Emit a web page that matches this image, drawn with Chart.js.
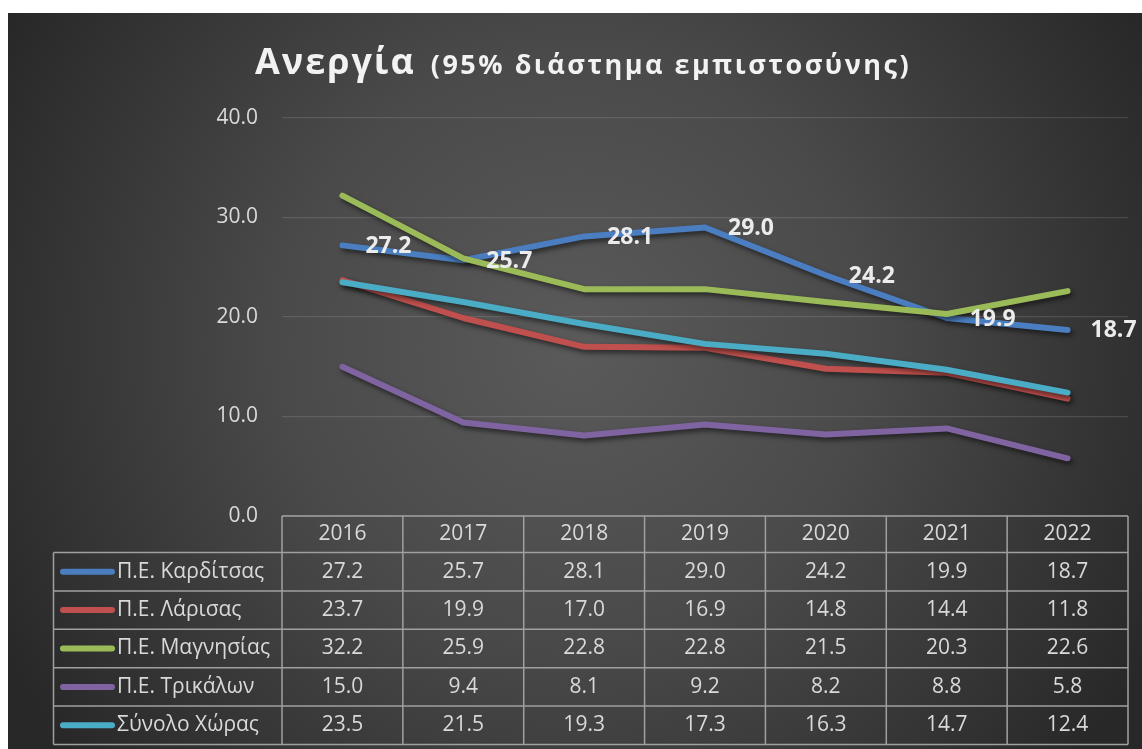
<!DOCTYPE html>
<html>
<head>
<meta charset="utf-8">
<script src="https://cdn.jsdelivr.net/npm/chart.js@4"></script>
<style>
  html, body { margin: 0; padding: 0; background: #ffffff; }
  #wrap { position: absolute; left: 8px; top: 13px; width: 1134px; height: 736px; }
</style>
</head>
<body>
<div id="wrap"><canvas id="c" width="1134" height="736"></canvas></div>
<script>
// ---- data ----
const years = ['2016', '2017', '2018', '2019', '2020', '2021', '2022'];
const seriesNames = ['Π.Ε. Καρδίτσας', 'Π.Ε. Λάρισας', 'Π.Ε. Μαγνησίας', 'Π.Ε. Τρικάλων', 'Σύνολο Χώρας'];
const karditsa  = [27.2, 25.7, 28.1, 29.0, 24.2, 19.9, 18.7];
const larisa    = [23.7, 19.9, 17.0, 16.9, 14.8, 14.4, 11.8];
const magnisia  = [32.2, 25.9, 22.8, 22.8, 21.5, 20.3, 22.6];
const trikala   = [15.0, 9.4, 8.1, 9.2, 8.2, 8.8, 5.8];
const total     = [23.5, 21.5, 19.3, 17.3, 16.3, 14.7, 12.4];
const titleMain = 'Ανεργία';
const titleSub  = '(95% διάστημα εμπιστοσύνης)';

const seriesValues = [karditsa, larisa, magnisia, trikala, total];
const colors = ['#4a7ec1', '#c0504d', '#9bbb59', '#8064a2', '#4bacc6'];
const FONT = '"Open Sans", "Noto Sans", sans-serif';
const TEXT = '#d9d9d9';

const bgPlugin = {
  id: 'bg',
  beforeDraw(chart) {
    const { ctx, width, height } = chart;
    ctx.save();
    const cx = width * 0.5, cy = height * 0.45;
    const g = ctx.createRadialGradient(cx, cy, 0, cx, cy, 650);
    g.addColorStop(0, '#5a5a5a');
    g.addColorStop(0.45, '#4a4a4a');
    g.addColorStop(1, '#282828');
    ctx.fillStyle = g;
    ctx.fillRect(0, 0, width, height);
    // title
    ctx.fillStyle = '#f2f2f2';
    ctx.textBaseline = 'alphabetic';
    ctx.textAlign = 'left';
    ctx.font = 'bold 36px ' + FONT;
    ctx.letterSpacing = '2px';
    const w1 = ctx.measureText(titleMain).width;
    ctx.font = 'bold 27px ' + FONT;
    ctx.letterSpacing = '2.5px';
    const w2 = ctx.measureText(titleSub).width;
    const gap = 15;
    const total = w1 + gap + w2;
    const x0 = 575 - total / 2;
    ctx.font = 'bold 36px ' + FONT;
    ctx.letterSpacing = '2px';
    ctx.fillText(titleMain, x0, 61);
    ctx.font = 'bold 27px ' + FONT;
    ctx.letterSpacing = '2.5px';
    ctx.fillText(titleSub, x0 + w1 + gap, 61);
    ctx.letterSpacing = '0px';
    ctx.restore();
  }
};

const shadowPlugin = {
  id: 'shadow',
  beforeDatasetDraw(chart) {
    const ctx = chart.ctx;
    ctx.save();
    ctx.shadowColor = 'rgba(0,0,0,0.55)';
    ctx.shadowBlur = 5;
    ctx.shadowOffsetX = 2;
    ctx.shadowOffsetY = 3;
  },
  afterDatasetDraw(chart) {
    chart.ctx.restore();
  }
};

const labelPlugin = {
  id: 'labels',
  afterDatasetsDraw(chart) {
    const { ctx } = chart;
    const meta = chart.getDatasetMeta(0);
    ctx.save();
    ctx.font = 'bold 23px ' + FONT;
    ctx.fillStyle = '#ececec';
    ctx.textAlign = 'left';
    ctx.textBaseline = 'middle';
    meta.data.forEach((pt, i) => {
      ctx.fillText(karditsa[i].toFixed(1), pt.x + 23, pt.y + 1);
    });
    ctx.restore();
  }
};

const tablePlugin = {
  id: 'table',
  afterDraw(chart) {
    const { ctx } = chart;
    const xs = chart.scales.x;
    const ys = chart.scales.y;
    const centers = years.map((_, i) => xs.getPixelForValue(i));
    const half = (centers[1] - centers[0]) / 2;
    const bounds = centers.map(c => c - half);
    bounds.push(centers[centers.length - 1] + half);
    const top = ys.getPixelForValue(0);
    const headerH = 36.5;
    const rowH = 38.4;
    const left = 45.5;
    const right = bounds[bounds.length - 1];
    const rowsTop = top + headerH;
    const bottom = rowsTop + rowH * seriesNames.length;

    ctx.save();
    ctx.strokeStyle = '#a0a0a0';
    ctx.lineWidth = 1.5;
    ctx.beginPath();
    ctx.moveTo(bounds[0], top); ctx.lineTo(right, top);
    for (let r = 0; r <= seriesNames.length; r++) {
      const y = rowsTop + r * rowH;
      ctx.moveTo(left, y); ctx.lineTo(right, y);
    }
    bounds.forEach(b => { ctx.moveTo(b, top); ctx.lineTo(b, bottom); });
    ctx.moveTo(left, rowsTop); ctx.lineTo(left, bottom);
    ctx.stroke();

    ctx.fillStyle = TEXT;
    ctx.font = '21px ' + FONT;
    ctx.textBaseline = 'middle';
    ctx.textAlign = 'center';
    years.forEach((y, i) => ctx.fillText(y, centers[i], top + headerH / 2));
    seriesValues.forEach((vals, r) => {
      const cy = rowsTop + r * rowH + rowH / 2;
      vals.forEach((v, i) => ctx.fillText(v.toFixed(1), centers[i], cy));
    });
    ctx.textAlign = 'left';
    seriesNames.forEach((n, r) => {
      const cy = rowsTop + r * rowH + rowH / 2;
      ctx.save();
      ctx.strokeStyle = colors[r];
      ctx.lineWidth = 6;
      ctx.lineCap = 'round';
      ctx.beginPath();
      ctx.moveTo(55, cy); ctx.lineTo(104, cy);
      ctx.stroke();
      ctx.restore();
      ctx.fillStyle = TEXT;
      ctx.fillText(n, 109, cy);
    });
    ctx.restore();
  }
};

new Chart(document.getElementById('c'), {
  type: 'line',
  data: {
    labels: years,
    datasets: seriesNames.map((n, i) => ({
      label: n,
      data: seriesValues[i],
      borderColor: colors[i],
      backgroundColor: colors[i],
      borderWidth: 6,
      borderCapStyle: 'round',
      borderJoinStyle: 'round',
      pointRadius: 0,
      pointHoverRadius: 0,
      tension: 0,
      fill: false,
      order: seriesNames.length - i
    }))
  },
  options: {
    responsive: false,
    animation: false,
    devicePixelRatio: 1,
    layout: { padding: { top: 105, right: 14, bottom: 233, left: 0 } },
    plugins: {
      legend: { display: false },
      title: { display: false },
      tooltip: { enabled: false }
    },
    scales: {
      x: {
        type: 'category',
        offset: true,
        display: false
      },
      y: {
        min: 0,
        max: 40,
        afterFit(scale) { scale.width = 274; },
        ticks: {
          stepSize: 10,
          padding: 24,
          color: TEXT,
          font: { family: FONT, size: 21 },
          callback: v => Number(v).toFixed(1)
        },
        grid: {
          color: 'rgba(255,255,255,0.12)',
          lineWidth: 1.3,
          drawTicks: false
        },
        border: { display: false }
      }
    }
  },
  plugins: [bgPlugin, shadowPlugin, labelPlugin, tablePlugin]
});
</script>
</body>
</html>
